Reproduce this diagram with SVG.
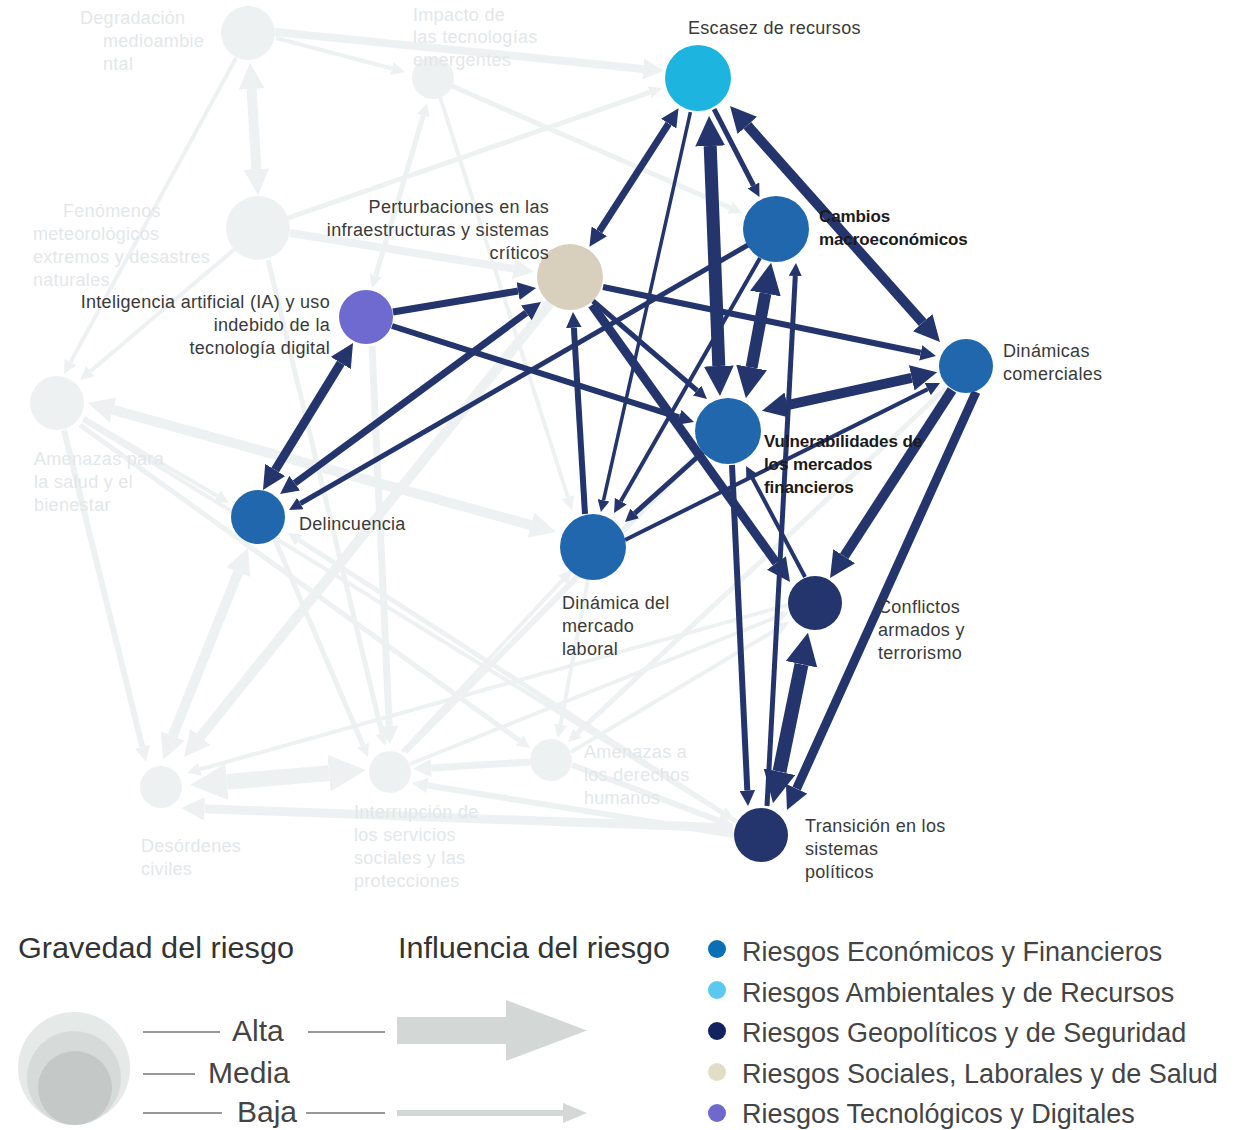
<svg xmlns="http://www.w3.org/2000/svg" width="1251" height="1130" viewBox="0 0 1251 1130">
<style>
.dk{stroke:#24356E;fill:none;stroke-linecap:butt}
.fd{stroke:#EEF1F2;fill:none;stroke-linecap:butt}
.lbl{font-family:"Liberation Sans",Arial,sans-serif;font-size:18px;fill:#3a3a3a;letter-spacing:0.3px}
.lblb{font-family:"Liberation Sans",Arial,sans-serif;font-size:17px;font-weight:bold;fill:#1a1a1a;letter-spacing:-0.1px}
.flbl{font-family:"Liberation Sans",Arial,sans-serif;font-size:18px;fill:#E3E7E9;letter-spacing:0.3px}
.fnode{fill:#EEF1F2}
.head{font-family:"Liberation Sans",Arial,sans-serif;font-size:30px;fill:#333}
.lg{font-family:"Liberation Sans",Arial,sans-serif;font-size:30px;fill:#444}
.lgi{font-family:"Liberation Sans",Arial,sans-serif;font-size:27px;fill:#444}
.tick{stroke:#333;stroke-width:1.2}
</style>
<defs>
<marker id="dt" viewBox="0 0 10 10" refX="0" refY="5" markerWidth="3.4" markerHeight="3.4" orient="auto-start-reverse" markerUnits="strokeWidth"><path d="M0,0 L10,5 L0,10 z" fill="#24356E"/></marker>
<marker id="dn" viewBox="0 0 10 10" refX="0" refY="5" markerWidth="2.6" markerHeight="2.6" orient="auto-start-reverse" markerUnits="strokeWidth"><path d="M0,0 L10,5 L0,10 z" fill="#24356E"/></marker>
<marker id="dh" viewBox="0 0 10 10" refX="0" refY="5" markerWidth="2.3" markerHeight="2.3" orient="auto-start-reverse" markerUnits="strokeWidth"><path d="M0,0 L10,5 L0,10 z" fill="#24356E"/></marker>
<marker id="ft" viewBox="0 0 10 10" refX="0" refY="5" markerWidth="3.4" markerHeight="3.4" orient="auto-start-reverse" markerUnits="strokeWidth"><path d="M0,0 L10,5 L0,10 z" fill="#EEF1F2"/></marker>
<marker id="fn" viewBox="0 0 10 10" refX="0" refY="5" markerWidth="2.6" markerHeight="2.6" orient="auto-start-reverse" markerUnits="strokeWidth"><path d="M0,0 L10,5 L0,10 z" fill="#EEF1F2"/></marker>
<marker id="fh" viewBox="0 0 10 10" refX="0" refY="5" markerWidth="2.3" markerHeight="2.3" orient="auto-start-reverse" markerUnits="strokeWidth"><path d="M0,0 L10,5 L0,10 z" fill="#EEF1F2"/></marker>
</defs>
<rect width="1251" height="1130" fill="#ffffff"/>

<g id="connectors">
<g id="faded-connectors">
<path class="fd" stroke-width="4" d="M276,38 L391.8,68.5" marker-end="url(#ft)"/>
<path class="fd" stroke-width="8" d="M275,32 L643.3,68.9" marker-end="url(#fn)"/>
<path class="fd" stroke-width="10" d="M251.6,89 L256.4,169" marker-start="url(#fn)" marker-end="url(#fn)"/>
<path class="fd" stroke-width="4" d="M236,58 L70.5,362.1" marker-end="url(#ft)"/>
<path class="fd" stroke-width="4" d="M236,248 L90.4,371.2" marker-end="url(#ft)"/>
<path class="fd" stroke-width="8" d="M290,233 L513.5,268.7" marker-end="url(#fn)"/>
<path class="fd" stroke-width="5" d="M288,218 L649.7,92.3" marker-end="url(#fn)"/>
<path class="fd" stroke-width="5" d="M268,260 L382,733.4" marker-end="url(#fn)"/>
<path class="fd" stroke-width="5" d="M423.3,115.5 L375.7,275.5" marker-start="url(#fn)" marker-end="url(#fn)"/>
<path class="fd" stroke-width="5" d="M452,86 L730.1,207.8" marker-end="url(#fn)"/>
<path class="fd" stroke-width="4" d="M440,97 L567.9,497" marker-end="url(#ft)"/>
<path class="fd" stroke-width="10" d="M113,409.9 L531,525.1" marker-start="url(#fn)" marker-end="url(#fn)"/>
<path class="fd" stroke-width="4" d="M84,418 L217.3,496.1" marker-end="url(#ft)"/>
<path class="fd" stroke-width="6" d="M64,430 L142.3,746.9" marker-end="url(#fn)"/>
<path class="fd" stroke-width="10" d="M238.3,572.1 L172.7,735.9" marker-start="url(#fn)" marker-end="url(#fn)"/>
<path class="fd" stroke-width="10" d="M550,303 L200.3,736.8" marker-end="url(#fn)"/>
<path class="fd" stroke-width="5" d="M275,540 L362.9,745.1" marker-end="url(#fn)"/>
<path class="fd" stroke-width="16" d="M226.9,781.9 L329.1,773.1" marker-start="url(#fh)" marker-end="url(#fh)"/>
<path class="fd" stroke-width="9" d="M733,828 L204.4,808.8" marker-end="url(#fn)"/>
<path class="fd" stroke-width="4" d="M788,605 L200.1,769.3" marker-end="url(#ft)"/>
<path class="fd" stroke-width="7" d="M530,762 L431.2,767.9" marker-end="url(#fn)"/>
<path class="fd" stroke-width="6" d="M734,835 L427.4,785.5" marker-end="url(#fn)"/>
<path class="fd" stroke-width="6" d="M405,752 L700,452"/>
<path class="fd" stroke-width="4" d="M410,764 L776.4,617.1" marker-end="url(#ft)"/>
<path class="fd" stroke-width="5" d="M80,425 L519.4,740.4" marker-end="url(#fn)"/>
<path class="fd" stroke-width="5" d="M737,822 L298.9,540" marker-end="url(#fn)"/>
<path class="fd" stroke-width="5" d="M946,388 L577.5,733.1" marker-end="url(#fn)"/>
<path class="fd" stroke-width="4" d="M83,420 L722.4,812.9" marker-end="url(#ft)"/>
<path class="fd" stroke-width="7" d="M372,346 L389.2,725.8" marker-end="url(#fn)"/>
<path class="fd" stroke-width="4" d="M402,752 L562.7,579.9" marker-end="url(#ft)"/>
<path class="fd" stroke-width="4" d="M571,752 L777.3,629" marker-end="url(#ft)"/>
<path class="fd" stroke-width="6" d="M572,765 L718.4,820.5" marker-end="url(#fn)"/>
<path class="fd" stroke-width="4" d="M588,580 L560.5,724.6" marker-end="url(#ft)"/>
</g>
<g id="dark-connectors">
<path class="dk" stroke-width="7" d="M599.3,231.4 L668.7,123.6" marker-start="url(#dn)" marker-end="url(#dn)"/>
<path class="dk" stroke-width="3.5" d="M690.4,112.2 L603.5,500.3" marker-end="url(#dt)"/>
<path class="dk" stroke-width="13" d="M710.2,146 L718.8,366" marker-start="url(#dh)" marker-end="url(#dh)"/>
<path class="dk" stroke-width="5" d="M714.1,109.1 L753.5,185.5" marker-end="url(#dn)"/>
<path class="dk" stroke-width="10" d="M747.3,125.4 L922.7,322.6" marker-start="url(#dn)" marker-end="url(#dn)"/>
<path class="dk" stroke-width="12" d="M765.4,293.5 L751.6,367.5" marker-start="url(#dn)" marker-end="url(#dn)"/>
<path class="dk" stroke-width="5" d="M767,806 L795.3,276" marker-end="url(#dn)"/>
<path class="dk" stroke-width="9" d="M592,305 L776.4,563" marker-end="url(#dn)"/>
<path class="dk" stroke-width="6" d="M732,465 L747.3,790.4" marker-end="url(#dn)"/>
<path class="dk" stroke-width="4" d="M805,577 L752.4,478" marker-end="url(#dt)"/>
<path class="dk" stroke-width="10" d="M952,390 L844.2,556.2" marker-end="url(#dn)"/>
<path class="dk" stroke-width="9" d="M976,392 L796.6,788.7" marker-end="url(#dn)"/>
<path class="dk" stroke-width="14" d="M801.5,664.3 L779.5,771.7" marker-start="url(#dh)" marker-end="url(#dh)"/>
<path class="dk" stroke-width="10" d="M787.3,405.2 L911.7,377.8" marker-start="url(#dn)" marker-end="url(#dn)"/>
<path class="dk" stroke-width="6" d="M603,287 L920.7,352.8" marker-end="url(#dn)"/>
<path class="dk" stroke-width="4" d="M625,540 L927.8,389.1" marker-end="url(#dt)"/>
<path class="dk" stroke-width="7" d="M393,312 L518.1,291" marker-end="url(#dn)"/>
<path class="dk" stroke-width="6" d="M392,326 L679.1,417.3" marker-end="url(#dn)"/>
<path class="dk" stroke-width="9" d="M340.8,363 L275.2,470" marker-start="url(#dn)" marker-end="url(#dn)"/>
<path class="dk" stroke-width="7" d="M526.3,312.8 L294.7,483.2" marker-start="url(#dn)" marker-end="url(#dn)"/>
<path class="dk" stroke-width="5" d="M748,245 L300.3,503.5" marker-end="url(#dn)"/>
<path class="dk" stroke-width="5" d="M593,301 L697.1,390.5" marker-end="url(#dn)"/>
<path class="dk" stroke-width="6" d="M585,514 L573.9,327.6" marker-end="url(#dn)"/>
<path class="dk" stroke-width="4" d="M760,258 L620.8,501.2" marker-end="url(#dt)"/>
<path class="dk" stroke-width="5" d="M703,452 L634.7,513.3" marker-end="url(#dn)"/>
</g>
</g>

<g id="node-degradacion"><circle class="fnode" cx="248" cy="33" r="27"/><text class="flbl" x="80" y="24">Degradación</text><text class="flbl" x="103" y="47">medioambie</text><text class="flbl" x="103" y="70">ntal</text></g>
<g id="node-impacto-tecnologias"><circle class="fnode" cx="433" cy="78" r="21"/><text class="flbl" x="413" y="21">Impacto de</text><text class="flbl" x="413" y="43">las tecnologías</text><text class="flbl" x="413" y="66">emergentes</text></g>
<g id="node-fenomenos"><circle class="fnode" cx="258" cy="228" r="32"/><text class="flbl" x="63" y="217">Fenómenos</text><text class="flbl" x="33" y="240">meteorológicos</text><text class="flbl" x="33" y="263">extremos y desastres</text><text class="flbl" x="33" y="286">naturales</text></g>
<g id="node-amenazas-salud"><circle class="fnode" cx="57" cy="403" r="27"/><text class="flbl" x="34" y="465">Amenazas para</text><text class="flbl" x="34" y="488">la salud y el</text><text class="flbl" x="34" y="511">bienestar</text></g>
<g id="node-desordenes"><circle class="fnode" cx="161" cy="787" r="21"/><text class="flbl" x="141" y="852">Desórdenes</text><text class="flbl" x="141" y="875">civiles</text></g>
<g id="node-interrupcion"><circle class="fnode" cx="390" cy="772" r="21"/><text class="flbl" x="354" y="818">Interrupción de</text><text class="flbl" x="354" y="841">los  servicios</text><text class="flbl" x="354" y="864">sociales  y las</text><text class="flbl" x="354" y="887">protecciones</text></g>
<g id="node-derechos-humanos"><circle class="fnode" cx="551" cy="760" r="21"/><text class="flbl" x="584" y="758">Amenazas a</text><text class="flbl" x="584" y="781">los derechos</text><text class="flbl" x="584" y="804">humanos</text></g>

<g id="node-escasez"><circle cx="698" cy="78" r="33" fill="#1DB5E0"/><text class="lbl" x="688" y="34">Escasez de recursos</text></g>
<g id="node-cambios"><circle cx="776" cy="229" r="33" fill="#2167AE"/><text class="lblb" x="819" y="222">Cambios</text><text class="lblb" x="819" y="245">macroeconómicos</text></g>
<g id="node-perturbaciones"><circle cx="570" cy="277" r="33" fill="#D8D0BC"/><text class="lbl" x="549" y="213" text-anchor="end">Perturbaciones en las</text><text class="lbl" x="549" y="236" text-anchor="end">infraestructuras y sistemas</text><text class="lbl" x="549" y="259" text-anchor="end">críticos</text></g>
<g id="node-ia"><circle cx="366" cy="317" r="27" fill="#6E6ACF"/><text class="lbl" x="330" y="308" text-anchor="end">Inteligencia artificial (IA) y uso</text><text class="lbl" x="330" y="331" text-anchor="end">indebido de la</text><text class="lbl" x="330" y="354" text-anchor="end">tecnología digital</text></g>
<g id="node-dinamicas-comerciales"><circle cx="966" cy="366" r="27" fill="#2167AE"/><text class="lbl" x="1003" y="357">Dinámicas</text><text class="lbl" x="1003" y="380">comerciales</text></g>
<g id="node-vulnerabilidades"><circle cx="728" cy="431" r="33" fill="#2167AE"/><text class="lblb" x="764" y="447">Vulnerabilidades de</text><text class="lblb" x="764" y="470">los mercados</text><text class="lblb" x="764" y="493">financieros</text></g>
<g id="node-delincuencia"><circle cx="258" cy="517" r="27" fill="#2167AE"/><text class="lbl" x="299" y="530">Delincuencia</text></g>
<g id="node-mercado-laboral"><circle cx="593" cy="547" r="33" fill="#2167AE"/><text class="lbl" x="562" y="609">Dinámica del</text><text class="lbl" x="562" y="632">mercado</text><text class="lbl" x="562" y="655">laboral</text></g>
<g id="node-conflictos"><circle cx="815" cy="603" r="27" fill="#24356E"/><text class="lbl" x="878" y="613">Conflictos</text><text class="lbl" x="878" y="636">armados y</text><text class="lbl" x="878" y="659">terrorismo</text></g>
<g id="node-transicion"><circle cx="761" cy="835" r="27" fill="#24356E"/><text class="lbl" x="805" y="832">Transición en los</text><text class="lbl" x="805" y="855">sistemas</text><text class="lbl" x="805" y="878">políticos</text></g>

<g id="legend-gravedad">
<text class="head" x="18" y="958" textLength="276" lengthAdjust="spacingAndGlyphs">Gravedad del riesgo</text>
<circle cx="74" cy="1068" r="56" fill="#E5EAE9"/>
<circle cx="74" cy="1078" r="47" fill="#D6DBDA"/>
<circle cx="75" cy="1088" r="37" fill="#C4C9C8"/>
<line class="tick" x1="143" y1="1032" x2="220" y2="1032"/>
<text class="lg" x="232" y="1041">Alta</text>
<line class="tick" x1="308" y1="1032" x2="385" y2="1032"/>
<line class="tick" x1="143" y1="1074" x2="195" y2="1074"/>
<text class="lg" x="208" y="1083">Media</text>
<line class="tick" x1="143" y1="1113" x2="222" y2="1113"/>
<text class="lg" x="237" y="1122">Baja</text>
<line class="tick" x1="306" y1="1113" x2="385" y2="1113"/>
</g>
<g id="legend-influencia">
<text class="head" x="398" y="958" textLength="272" lengthAdjust="spacingAndGlyphs">Influencia del riesgo</text>
<path d="M397,1017 L506,1017 L506,1000 L587,1030.5 L506,1061 L506,1044 L397,1044 z" fill="#D3D8D7"/>
<path d="M397,1110 L563,1110 L563,1103 L587,1113 L563,1123 L563,1116 L397,1116 z" fill="#D3D8D7"/>
</g>
<g id="legend-categorias">
<circle cx="717" cy="949" r="9" fill="#0B6FB6"/><text class="lgi" x="742" y="961">Riesgos Económicos y Financieros</text>
<circle cx="717" cy="990" r="9" fill="#5BC8F0"/><text class="lgi" x="742" y="1002">Riesgos Ambientales y de Recursos</text>
<circle cx="717" cy="1031" r="9" fill="#13235F"/><text class="lgi" x="742" y="1042">Riesgos Geopolíticos y de Seguridad</text>
<circle cx="717" cy="1072" r="9" fill="#E2DEC5"/><text class="lgi" x="742" y="1083">Riesgos Sociales, Laborales y de Salud</text>
<circle cx="717" cy="1113" r="9" fill="#6F69CF"/><text class="lgi" x="742" y="1123">Riesgos Tecnológicos y Digitales</text>
</g>
</svg>
